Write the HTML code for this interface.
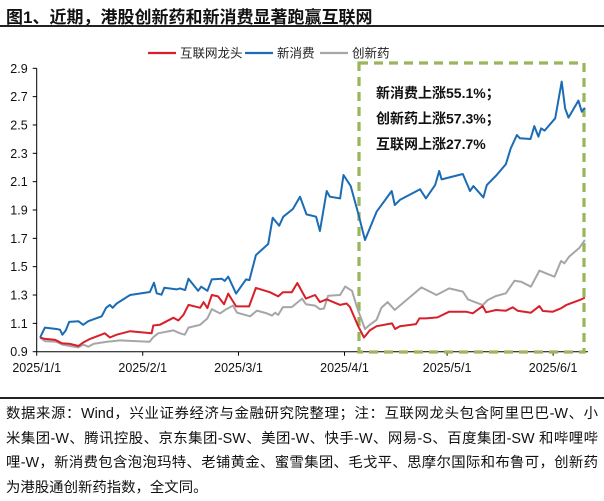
<!DOCTYPE html>
<html><head><meta charset="utf-8"><style>
body{margin:0;background:#fff;width:604px;height:501px;overflow:hidden;position:relative;font-family:"Liberation Sans","Noto Sans CJK SC",sans-serif;}
.t{position:absolute;white-space:nowrap;}
.note{position:absolute;left:6px;width:592px;font-size:14.4px;color:#111;line-height:24.5px;text-align:justify;text-align-last:justify;}
</style></head><body>
<div class="t" style="left:6px;top:3px;font-size:17px;font-weight:bold;color:#111;">图1、近期，港股创新药和新消费显著跑赢互联网</div>
<div style="position:absolute;left:0;top:25px;width:604px;height:2px;background:#222;"></div>
<svg id="chart" width="604" height="400" style="position:absolute;left:0;top:0;" font-family="Liberation Sans, Noto Sans CJK SC, sans-serif"></svg>
<div style="position:absolute;left:0;top:397px;width:604px;height:1.5px;background:#222;"></div>
<div class="note" style="top:402px;">
<div>数据来源：Wind，兴业证券经济与金融研究院整理；注：互联网龙头包含阿里巴巴-W、小</div>
<div>米集团-W、腾讯控股、京东集团-SW、美团-W、快手-W、网易-S、百度集团-SW 和哔哩哔</div>
<div>哩-W，新消费包含泡泡玛特、老铺黄金、蜜雪集团、毛戈平、思摩尔国际和布鲁可，创新药</div>
<div style="text-align-last:left">为港股通创新药指数，全文同。</div>
</div>
<script>
const yTicks=[0.9,1.1,1.3,1.5,1.7,1.9,2.1,2.3,2.5,2.7,2.9];
const xTickDays=[0,31,59,90,120,151];
const xTickLabels=["2025/1/1","2025/2/1","2025/3/1","2025/4/1","2025/5/1","2025/6/1"];
const seriesNames=["互联网龙头","新消费","创新药"];
const blueDays=[1,2.4,5.8,6.8,7.5,8.5,9.5,12.2,13.6,15.1,19,20.3,21.4,22.2,23.4,27.3,33.1,34.3,35.1,36.5,37.3,40.9,41.9,43.4,44.4,47.2,48.1,49.9,51.2,54.1,55,56,58.3,61.2,62.2,64.1,67.7,69,70.9,72.1,74.9,77,78.9,81.7,82.8,84.8,85.7,88.7,89.7,91.8,94,96,99.4,103.8,104.7,106.2,112.1,113.8,116.5,117.7,118.4,124.6,126.7,127.7,130.6,131.6,134.5,137.2,138.6,140.4,141.3,144.4,145.5,146.7,147.5,148.5,151.6,153.5,154.5,155.5,158.4,159.4,160.3];
const blueVals=[1.0,1.07,1.06,1.055,1.02,1.05,1.11,1.115,1.09,1.115,1.15,1.21,1.23,1.21,1.24,1.3,1.321,1.387,1.312,1.302,1.352,1.34,1.347,1.335,1.415,1.33,1.359,1.33,1.41,1.415,1.40,1.43,1.31,1.41,1.405,1.582,1.66,1.846,1.789,1.853,1.907,1.994,1.869,1.853,1.752,2.034,1.994,1.982,2.147,2.069,1.876,1.688,1.888,2.034,1.935,1.971,2.046,1.982,2.076,2.175,2.116,2.154,2.034,2.069,1.989,2.076,2.147,2.224,2.335,2.429,2.406,2.401,2.492,2.417,2.476,2.46,2.547,2.806,2.618,2.552,2.672,2.594,2.622];
const redDays=[1,2.4,5.3,7.3,9.7,12.2,13.6,15.6,19.9,21.4,23.4,27.3,33.6,34.1,36,40,41.4,42.9,44.4,47.8,48.8,49.9,51.2,53,54.8,56,58.3,62.1,64.1,68.2,70.6,72,74.6,76.2,78.7,81.4,82.8,84.8,88.7,90.6,91.6,94,95.7,97.4,99.4,103.9,104.8,106.2,110.9,111.9,113.8,117.2,120.6,125.5,127.5,130.4,131.4,134.3,137.2,139.2,140.6,144.5,147,148,150.9,153.3,154.8,159.2,160.3];
const redVals=[1.0,0.99,0.985,0.96,0.955,0.94,0.965,0.99,1.03,1.0,1.02,1.045,1.03,1.085,1.09,1.14,1.12,1.16,1.23,1.21,1.25,1.208,1.3,1.29,1.235,1.31,1.22,1.22,1.35,1.32,1.29,1.32,1.32,1.385,1.275,1.3,1.25,1.27,1.23,1.24,1.215,1.08,1.0,1.05,1.08,1.1,1.06,1.08,1.095,1.135,1.135,1.142,1.182,1.182,1.171,1.222,1.178,1.194,1.189,1.213,1.189,1.175,1.222,1.187,1.182,1.206,1.229,1.269,1.281];
const grayDays=[1,2.4,5.8,7.5,9.7,12.2,13.6,15.1,16.6,20.5,22.4,24.3,33,34,35.5,40,41.9,43.3,44.4,47.8,49.9,51.2,53.6,55.4,57.4,58.6,62.4,64.4,67.3,68.8,69.7,70.6,72,74.6,77.6,78.7,81.4,82.8,84,85.2,88.7,90.2,92.2,93.7,96,97.4,99.4,100.8,102.6,104.7,112.5,116.9,120.6,124.6,126.1,130.4,131.9,134.3,137.2,139.7,141.6,144.5,147,148.9,151.4,153.3,154.3,155.7,158.7,160.3];
const grayVals=[1.0,0.975,0.97,0.95,0.94,0.93,0.95,0.935,0.955,0.97,0.975,0.98,0.97,1.0,1.03,1.05,1.03,1.02,1.07,1.09,1.135,1.2,1.17,1.2,1.225,1.175,1.15,1.19,1.17,1.155,1.175,1.16,1.215,1.215,1.275,1.235,1.225,1.2,1.205,1.295,1.3,1.36,1.33,1.21,1.06,1.09,1.125,1.21,1.25,1.195,1.354,1.3,1.347,1.324,1.269,1.229,1.265,1.293,1.312,1.401,1.394,1.359,1.472,1.453,1.429,1.54,1.524,1.571,1.634,1.688];
const annotations=["新消费上涨55.1%；","创新药上涨57.3%；","互联网上涨27.7%"];

const NS="http://www.w3.org/2000/svg";
const svg=document.getElementById('chart');
const X0=36.7,PXD=3.42,YB=351.7,PXV=141.7;
function xs(d){return X0+d*PXD;}
function ys(v){return YB-(v-0.9)*PXV;}
function mk(tag,attrs,parent){const e=document.createElementNS(NS,tag);for(const k in attrs)e.setAttribute(k,attrs[k]);(parent||svg).appendChild(e);return e;}

let ax=mk('line',{x1:X0,y1:ys(2.9),x2:X0,y2:YB,stroke:'#000','stroke-width':1});


let bx=mk('line',{x1:X0,y1:YB,x2:588,y2:YB,stroke:'#000','stroke-width':1});


yTicks.forEach(v=>{
  const tk=mk('line',{x1:X0-4,y1:ys(v),x2:X0,y2:ys(v),stroke:'#000'});
  
  
  const t=mk('text',{x:X0-9,y:ys(v)+4.5,'text-anchor':'end','font-size':12.5,fill:'#111'});
  t.textContent=v.toFixed(1);
  
  
});
xTickDays.forEach((d,i)=>{
  const tk=mk('line',{x1:xs(d),y1:YB,x2:xs(d),y2:YB+4,stroke:'#000'});
  
  
  const t=mk('text',{x:xs(d),y:372,'text-anchor':'middle','font-size':12.5,fill:'#111'});
  t.textContent=xTickLabels[i];
  
  
});
const box=mk('rect',{x:359,y:63,width:225,height:289,fill:'none',stroke:'#9bb55a','stroke-width':3.2,'stroke-dasharray':'9 6'});


annotations.forEach((s,i)=>{
  const t=mk('text',{x:376,y:98+i*25.5,'font-size':14,'font-weight':'bold',fill:'#111'});
  t.textContent=s;
  
  
});
function line(days,vals,color,name){
  const p=mk('polyline',{points:days.map((d,i)=>xs(d).toFixed(1)+','+ys(vals[i]).toFixed(1)).join(' '),fill:'none',stroke:color,'stroke-width':2,'stroke-linejoin':'round'});
  
  
}
line(grayDays,grayVals,'#a6a6a6','series-innovative-drug');
line(redDays,redVals,'#d7202a','series-internet-leaders');
line(blueDays,blueVals,'#1a6cb5','series-new-consumption');
const lg=[[148,'#d7202a'],[245,'#1a6cb5'],[320,'#a6a6a6']];
lg.forEach((l,i)=>{
  const s=mk('line',{x1:l[0],y1:53,x2:l[0]+28,y2:53,stroke:l[1],'stroke-width':2.2});
  
  
  const t=mk('text',{x:l[0]+32,y:57.5,'font-size':12.5,fill:'#222'});
  t.textContent=seriesNames[i];
  
  
});
</script>
</body></html>
